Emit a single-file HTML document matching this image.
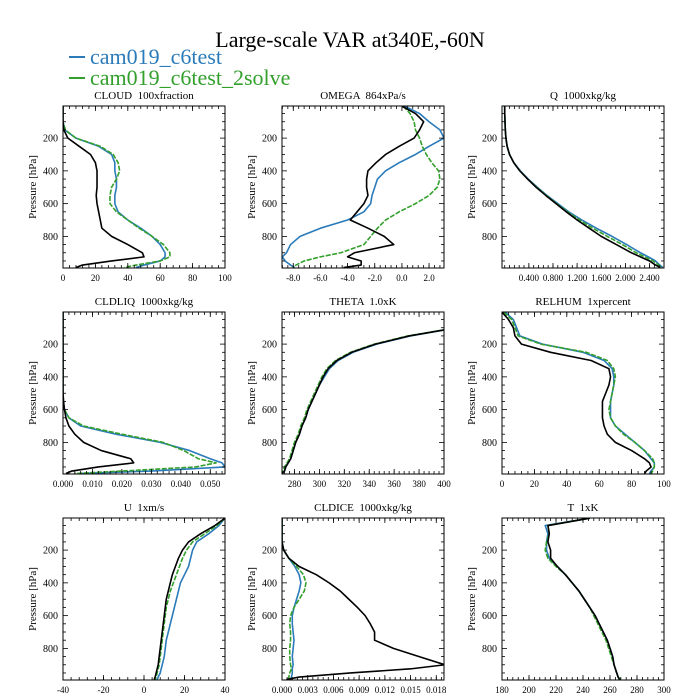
<!DOCTYPE html>
<html><head><meta charset="utf-8">
<style>
html,body{margin:0;padding:0;background:#fff;}
svg{display:block;}
text{font-family:"Liberation Serif",serif;fill:#000;white-space:pre;}
</style></head>
<body>
<svg id="chart" width="700" height="700" viewBox="0 0 700 700">
<text x="350" y="47" font-size="22" text-anchor="middle">Large-scale VAR at340E,-60N</text>
<g>
<line x1="69" y1="57" x2="85" y2="57" stroke="#2b7bba" stroke-width="2"/>
<text x="90" y="64" font-size="22" style="fill:#2b7bba">cam019_c6test</text></g>
<g>
<line x1="69" y1="78" x2="85" y2="78" stroke="#33a02c" stroke-width="2"/>
<text x="90" y="85" font-size="22" style="fill:#33a02c">cam019_c6test_2solve</text></g>
</svg>
<script>
const levels=[5,50,100,150,200,250,300,350,400,450,500,550,600,650,700,750,800,850,900,925,950,975,990];
const panelTitles=["CLOUD  100xfraction","OMEGA  864xPa/s","Q  1000xkg/kg","CLDLIQ  1000xkg/kg","THETA  1.0xK","RELHUM  1xpercent","U  1xm/s","CLDICE  1000xkg/kg","T  1xK"];
const xRanges=[[0,100],[-8.83,3.1],[-0.045,2.64],[0,0.055],[270,400],[0,100],[-40,40],[0,0.0189],[180,300]];
const xTicks=[[0,20,40,60,80,100],[-8,-6,-4,-2,0,2],[0.4,0.8,1.2,1.6,2.0,2.4],[0,0.01,0.02,0.03,0.04,0.05],[280,300,320,340,360,380,400],[0,20,40,60,80,100],[-40,-20,0,20,40],[0,0.003,0.006,0.009,0.012,0.015,0.018],[180,200,220,240,260,280,300]];
const xTickLabels=[["0","20","40","60","80","100"],["-8.0","-6.0","-4.0","-2.0","0.0","2.0"],["0.400","0.800","1.200","1.600","2.000","2.400"],["0.000","0.010","0.020","0.030","0.040","0.050"],["280","300","320","340","360","380","400"],["0","20","40","60","80","100"],["-40","-20","0","20","40"],["0.000","0.003","0.006","0.009","0.012","0.015","0.018"],["180","200","220","240","260","280","300"]];
const yTicks=[200,400,600,800];
const cloudBlack=[0,0,0,0.5,3,10,17,20,21,21,21,20.5,21,22,23,24,30,40,49,50,30,12,8];
const cloudBlue=[0,0,0,1,8,22,30,32,32,33,33,32,32,34,40,48,55,60,63,63,60,50,45];
const cloudGreen=[0,0,0,1.5,8,23,31,34,35,33,30,29,29,33,40,47,55,62,66,66,60,45,38];
const omegaBlack=[0,1.0,1.6,1.3,0.9,-0.2,-1.2,-1.9,-2.5,-2.6,-2.6,-2.5,-2.8,-3.3,-3.8,-2.5,-1.3,-0.6,-3.5,-4.0,-3.0,-3.0,-4.3];
const omegaBlue=[0.2,1.3,2.0,2.8,3.1,2.0,1.0,-0.2,-1.2,-1.8,-2.0,-2.2,-2.3,-2.8,-4.0,-6.0,-7.5,-8.2,-8.5,-8.8,-8.6,-8.2,-7.9];
const omegaGreen=[0.1,0.6,0.9,1.0,1.3,1.5,1.8,2.2,2.7,2.8,2.6,2.0,1.0,-0.2,-1.2,-1.8,-2.3,-2.8,-4.5,-6.0,-7.2,-7.8,-8.0];
const qBlack=[0,0,0.005,0.01,0.02,0.04,0.08,0.15,0.25,0.38,0.52,0.68,0.85,1.02,1.2,1.4,1.6,1.85,2.1,2.25,2.4,2.5,2.58];
const qBlue=[0,0,0.005,0.01,0.02,0.04,0.08,0.15,0.26,0.39,0.54,0.7,0.88,1.06,1.28,1.52,1.78,2.02,2.25,2.38,2.5,2.57,2.62];
const qGreen=[0,0,0.005,0.01,0.02,0.04,0.08,0.15,0.25,0.38,0.53,0.69,0.86,1.04,1.24,1.46,1.7,1.95,2.18,2.32,2.46,2.55,2.61];
const liqBlack=[0,0,0,0,0,0,0,0,0,0,0,0.0002,0.0005,0.001,0.002,0.004,0.007,0.013,0.023,0.024,0.012,0.003,0.001];
const liqBlue=[0,0,0,0,0,0,0,0,0,0,0,0,0.0005,0.002,0.006,0.018,0.033,0.043,0.05,0.054,0.055,0.03,0.005];
const liqGreen=[0,0,0,0,0,0,0,0,0,0,0,0,0.0005,0.002,0.007,0.02,0.034,0.041,0.046,0.052,0.045,0.02,0.004];
const thetaBlack=[700,500,410,372,345,326,314,307,303,300,297,294,291,289,286,284,281,279,277,275,273,272,270];
const thetaBlue=[700,500,411,373,346,327,315,308,304,300,297,294,291,289,286,284,281,279,277,275,273,272,270];
const thetaGreen=[700,500,410,371,344,325,313,306,302,299,296,293,290,288,285,283,280,278,276,274,272,271,270];
const rhBlack=[0,4,7,8,12,30,55,66,67,66,64,62,62,62,63,65,70,80,88,91,92,89,88];
const rhBlue=[2,7,9,11,25,50,63,68,69,69,68,67,67,67,70,76,82,88,92,94,94,92,91];
const rhGreen=[1,6,8,10,24,52,65,69,70,69,68,67,66,67,70,75,82,88,93,94,94,93,92];
const uBlack=[40,35,28,22,19,17,15.5,14,13,12,11,10.5,10,9.5,9,8.5,8,7.5,7,6.5,6,5.5,5];
const uBlue=[40,37,32,26,24,23,22,20,18,17,16,15,14,13,12,11,10.5,10,9,8.5,8,7,6.5];
const uGreen=[40,36,30,24,21,19,17.5,16,14.5,13,12,11,10.5,10,9.5,9,8.5,8,7.5,7,6.5,6,5.5];
const iceBlack=[0,0,0,0,0.0002,0.0008,0.002,0.004,0.0055,0.0068,0.0078,0.0088,0.0097,0.0103,0.0108,0.0108,0.013,0.016,0.019,0.015,0.008,0.002,0.0005];
const iceBlue=[0,0,0,0,0.0002,0.0008,0.0015,0.002,0.0022,0.002,0.0017,0.0014,0.0012,0.0012,0.0013,0.0014,0.0013,0.0012,0.0013,0.0012,0.0012,0.0011,0.001];
const iceGreen=[0,0,0,0,0.0002,0.0008,0.0017,0.0025,0.0028,0.0026,0.002,0.0014,0.001,0.0009,0.001,0.001,0.0009,0.0009,0.001,0.0011,0.0009,0.0008,0.0008];
const tBlack=[245,214,215,214,216,216,221,227,232,237,241,245,249,252,255,258,260,262,263,264,265,266,267];
const tBlue=[245,212,214,213,213,215,221,227,232,237,241,245,249,252,255,258,260,262,263,264,265,266,268];
const tGreen=[245,214,215,213,212,214,220,227,232,237,241,245,248,251,254,257,259,261,263,264,265,266,268];
const seriesBlack=[cloudBlack,omegaBlack,qBlack,liqBlack,thetaBlack,rhBlack,uBlack,iceBlack,tBlack];
const seriesBlue=[cloudBlue,omegaBlue,qBlue,liqBlue,thetaBlue,rhBlue,uBlue,iceBlue,tBlue];
const seriesGreen=[cloudGreen,omegaGreen,qGreen,liqGreen,thetaGreen,rhGreen,uGreen,iceGreen,tGreen];

const NS="http://www.w3.org/2000/svg";
const svg=document.getElementById('chart');
const pTop=4,pBot=993,W=162,H=162;
const colX=[63,282,502],rowY=[106,312,518];
function mk(tag,attrs,parent){const e=document.createElementNS(NS,tag);for(const k in attrs)e.setAttribute(k,attrs[k]);parent.appendChild(e);return e;}
for(let i=0;i<9;i++){
  const x0=colX[i%3],y0=rowY[Math.floor(i/3)];
  const [xmin,xmax]=xRanges[i];
  const sx=v=>x0+(v-xmin)/(xmax-xmin)*W;
  const sy=p=>y0+(p-pTop)/(pBot-pTop)*H;
  const g=mk('g',{},svg);
  
  
  const tt=mk('text',{x:x0+W/2,y:y0-7,'font-size':11,'text-anchor':'middle'},g);
  tt.textContent=panelTitles[i];
  
  
  const cp=mk('clipPath',{id:'cp'+i},g);
  mk('rect',{x:x0,y:y0,width:W,height:H},cp);
  const lines=mk('g',{'clip-path':'url(#cp'+i+')'},g);
  const sets=[[seriesBlue[i],'#2b7bba',''],[seriesGreen[i],'#33a02c','5,1.5'],[seriesBlack[i],'#000','']];
  const names=['line-c6test','line-c6test-2solve','line-reference'];
  sets.forEach((s,k)=>{
    const d=s[0].map((v,j)=>(j?'L':'M')+sx(v).toFixed(2)+','+sy(levels[j]).toFixed(2)).join('');
    const pth=mk('path',{d:d,fill:'none',stroke:s[1],'stroke-width':1.6,'stroke-linejoin':'round'},lines);
    if(s[2])pth.setAttribute('stroke-dasharray',s[2]);
    
    
  });
  const box=mk('rect',{x:x0,y:y0,width:W,height:H,fill:'none',stroke:'#000','stroke-width':1},g);
  
  
  for(let p=50;p<=950;p+=50){
    const y=sy(p),major=p%200===0,L=major?5:3;
    mk('line',{x1:x0,y1:y,x2:x0+L,y2:y,stroke:'#000','stroke-width':0.8},g);
    mk('line',{x1:x0+W,y1:y,x2:x0+W-L,y2:y,stroke:'#000','stroke-width':0.8},g);
  }
  yTicks.forEach(p=>{
    const t=mk('text',{x:x0-5,y:sy(p)+3.5,'font-size':10,'text-anchor':'end'},g);
    t.textContent=String(p);
    
    
  });
  const yl=mk('text',{transform:`translate(${x0-27},${y0+H/2}) rotate(-90)`,'font-size':11,'text-anchor':'middle'},g);
  yl.textContent='Pressure [hPa]';
  
  
  const xt=xTicks[i];const step=xt[1]-xt[0];
  for(let v=xt[0]-step;v<=xmax+1e-9;v+=step/5){
    if(v<xmin-1e-9)continue;
    const x=sx(v);
    mk('line',{x1:x,y1:y0+H,x2:x,y2:y0+H-3,stroke:'#000','stroke-width':0.8},g);
    mk('line',{x1:x,y1:y0,x2:x,y2:y0+3,stroke:'#000','stroke-width':0.8},g);
  }
  xt.forEach((v,j)=>{
    const x=sx(v);
    mk('line',{x1:x,y1:y0+H,x2:x,y2:y0+H-5,stroke:'#000','stroke-width':0.8},g);
    mk('line',{x1:x,y1:y0,x2:x,y2:y0+5,stroke:'#000','stroke-width':0.8},g);
    const t=mk('text',{x:x,y:y0+H+13,'font-size':9,'text-anchor':'middle'},g);
    t.textContent=xTickLabels[i][j];
    
    
  });
}
</script>
</body></html>
